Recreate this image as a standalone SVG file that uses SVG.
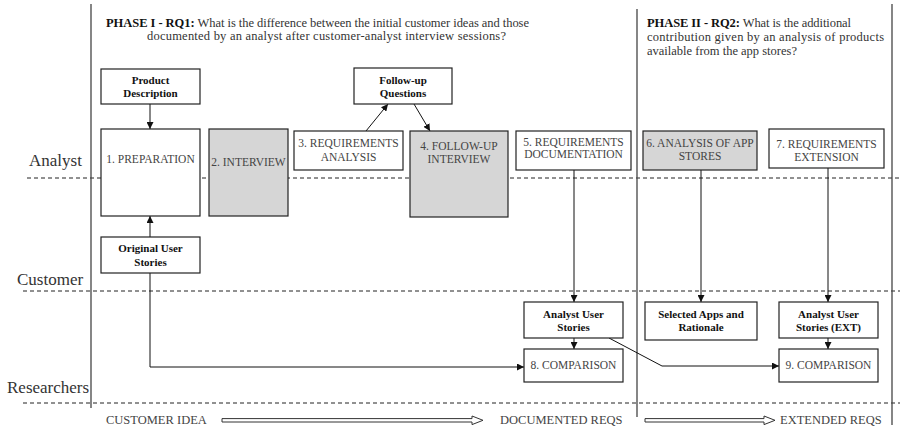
<svg xmlns="http://www.w3.org/2000/svg" width="900" height="430" viewBox="0 0 900 430">
<defs>
<marker id="ah" viewBox="0 0 10 10" refX="10" refY="5" markerWidth="7" markerHeight="7" markerUnits="userSpaceOnUse" orient="auto">
<path d="M0,0 L10,5 L0,10 Z" fill="#111"/>
</marker>
<style>
text{font-family:'Liberation Serif','Times New Roman','DejaVu Serif',serif}
.box{fill:#fff;stroke:#222;stroke-width:1.2}
.gray{fill:#d6d6d6;stroke:#222;stroke-width:1.2}
.proc{font-size:11.5px;fill:#444;text-anchor:middle}
.data{font-size:11px;font-weight:bold;fill:#111;text-anchor:middle}
.lane{font-size:17px;fill:#333}
.title{font-size:12.5px;fill:#333}
.foot{font-size:12.5px;fill:#444}
.dash{stroke:#222;stroke-width:1;stroke-dasharray:4 3;fill:none}
.vline{stroke:#444;stroke-width:1.3;fill:none}
.conn{stroke:#111;stroke-width:1;fill:none}
.big{fill:#fff;stroke:#333;stroke-width:1}
</style>
</defs>
<rect width="900" height="430" fill="#fff"/>

<g id="lanes">
<line class="dash" x1="27" y1="178" x2="900" y2="178"/>
<line class="dash" x1="23" y1="291" x2="900" y2="291"/>
<line class="dash" x1="23" y1="403" x2="900" y2="403"/>
<line class="vline" x1="91" y1="4" x2="91" y2="408"/>
<line class="vline" x1="637" y1="9" x2="637" y2="417"/>
<line class="vline" x1="892" y1="4" x2="892" y2="425"/>
<text class="lane" x="29" y="166">Analyst</text>
<text class="lane" x="17" y="285">Customer</text>
<text class="lane" x="7" y="393">Researchers</text>
</g>

<g id="titles">
<text class="title" x="106" y="27" textLength="423"><tspan font-weight="bold" fill="#111">PHASE I - RQ1:</tspan> What is the difference between the initial customer ideas and those</text>
<text class="title" x="147" y="40" textLength="359">documented by an analyst after customer-analyst interview sessions?</text>
<text class="title" x="647" y="27" textLength="204"><tspan font-weight="bold" fill="#111">PHASE II - RQ2:</tspan> What is the additional</text>
<text class="title" x="647" y="41" textLength="237">contribution given by an analysis of products</text>
<text class="title" x="647" y="55">available from the app stores?</text>
</g>

<g id="connectors">
<line class="conn" x1="150" y1="104" x2="150" y2="129" marker-end="url(#ah)"/>
<line class="conn" x1="150" y1="237" x2="150" y2="216" marker-end="url(#ah)"/>
<line class="conn" x1="366" y1="131" x2="388" y2="104" marker-end="url(#ah)"/>
<line class="conn" x1="414" y1="104" x2="430" y2="131" marker-end="url(#ah)"/>
<line class="conn" x1="574" y1="170" x2="574" y2="302" marker-end="url(#ah)"/>
<line class="conn" x1="574" y1="338" x2="574" y2="349" marker-end="url(#ah)"/>
<polyline class="conn" points="150,273 150,367 524,367" marker-end="url(#ah)"/>
<line class="conn" x1="701" y1="170" x2="701" y2="302" marker-end="url(#ah)"/>
<line class="conn" x1="828" y1="168" x2="828" y2="302" marker-end="url(#ah)"/>
<line class="conn" x1="828" y1="338" x2="828" y2="349" marker-end="url(#ah)"/>
<polyline class="conn" points="609,338 662,366 779,366" marker-end="url(#ah)"/>
</g>

<g id="product-description">
<rect class="box" x="101" y="69" width="99" height="35"/>
<text class="data" x="150.5" y="84">Product</text>
<text class="data" x="150.5" y="97">Description</text>
</g>
<g id="preparation">
<rect class="box" x="101" y="129" width="99" height="87"/>
<text class="proc" x="150.5" y="163">1. PREPARATION</text>
</g>
<g id="interview">
<rect class="gray" x="209" y="129" width="79" height="87"/>
<text class="proc" x="248.5" y="166">2. INTERVIEW</text>
</g>
<g id="requirements-analysis">
<rect class="box" x="294" y="131" width="109" height="39"/>
<text class="proc" x="348.5" y="147">3. REQUIREMENTS</text>
<text class="proc" x="348.5" y="161">ANALYSIS</text>
</g>
<g id="follow-up-questions">
<rect class="box" x="354" y="68" width="98" height="36"/>
<text class="data" x="403" y="84">Follow-up</text>
<text class="data" x="403" y="97">Questions</text>
</g>
<g id="follow-up-interview">
<rect class="gray" x="410" y="131" width="98" height="86"/>
<text class="proc" x="459" y="150">4. FOLLOW-UP</text>
<text class="proc" x="459" y="163">INTERVIEW</text>
</g>
<g id="requirements-documentation">
<rect class="box" x="516" y="131" width="115" height="39"/>
<text class="proc" x="573.5" y="146">5. REQUIREMENTS</text>
<text class="proc" x="573.5" y="158">DOCUMENTATION</text>
</g>
<g id="analysis-app-stores">
<rect class="gray" x="643" y="131" width="114" height="39"/>
<text class="proc" x="700" y="147">6. ANALYSIS OF APP</text>
<text class="proc" x="700" y="160">STORES</text>
</g>
<g id="requirements-extension">
<rect class="box" x="769" y="129" width="115" height="39"/>
<text class="proc" x="826.5" y="148">7. REQUIREMENTS</text>
<text class="proc" x="826.5" y="161">EXTENSION</text>
</g>
<g id="original-user-stories">
<rect class="box" x="101" y="237" width="99" height="36"/>
<text class="data" x="150.5" y="252">Original User</text>
<text class="data" x="150.5" y="266">Stories</text>
</g>
<g id="analyst-user-stories">
<rect class="box" x="524" y="302" width="99" height="36"/>
<text class="data" x="573.5" y="318">Analyst User</text>
<text class="data" x="573.5" y="331">Stories</text>
</g>
<g id="comparison-8">
<rect class="box" x="524" y="349" width="99" height="33"/>
<text class="proc" x="573.5" y="369">8. COMPARISON</text>
</g>
<g id="selected-apps">
<rect class="box" x="645" y="302" width="112" height="38"/>
<text class="data" x="701" y="318">Selected Apps and</text>
<text class="data" x="701" y="331">Rationale</text>
</g>
<g id="analyst-user-stories-ext">
<rect class="box" x="779" y="302" width="99" height="36"/>
<text class="data" x="828.5" y="318">Analyst User</text>
<text class="data" x="828.5" y="331">Stories (EXT)</text>
</g>
<g id="comparison-9">
<rect class="box" x="779" y="349" width="99" height="33"/>
<text class="proc" x="828.5" y="369">9. COMPARISON</text>
</g>

<g id="progress">
<path class="big" d="M222,418.6 H472 V416 L483,420.3 L472,424.6 V422 H222 Z"/>
<path class="big" d="M645,418.6 H764 V416 L775,420.3 L764,424.6 V422 H645 Z"/>
<text class="foot" x="106" y="424">CUSTOMER IDEA</text>
<text class="foot" x="500" y="424">DOCUMENTED REQS</text>
<text class="foot" x="780" y="424">EXTENDED REQS</text>
</g>
</svg>
